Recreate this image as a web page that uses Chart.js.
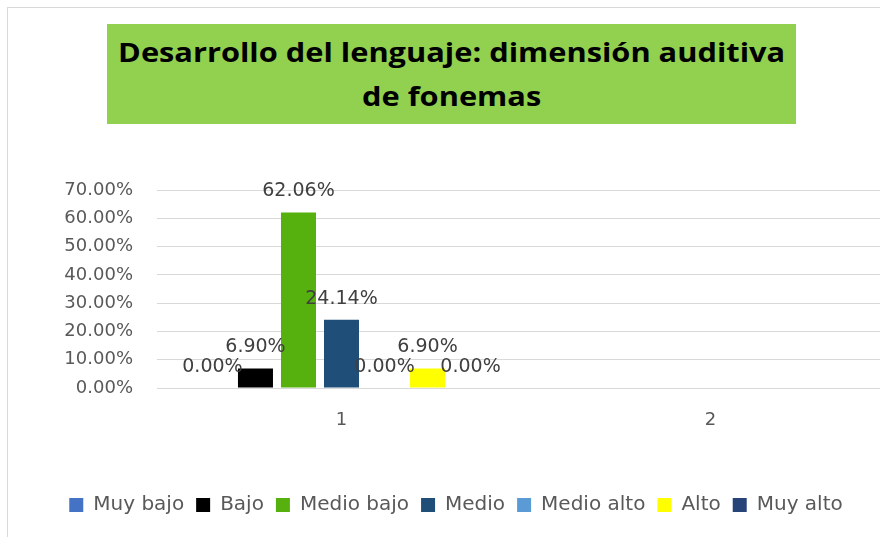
<!DOCTYPE html>
<html lang="es">
<head>
  <meta charset="UTF-8" />
  <title>Desarrollo del lenguaje: dimensión auditiva de fonemas</title>
  <script src="https://cdn.jsdelivr.net/npm/chart.js"></script>
  <style>
    body {
      margin: 0;
      width: 880px;
      height: 537px;
      overflow: hidden;
      background: #fff;
      position: relative;
    }

    #frame {
      position: absolute;
      left: 7px;
      top: 7px;
      width: 900px;
      height: 560px;
      border: 1px solid #d9d9d9;
    }

    #chart-box {
      position: absolute;
      left: 0;
      top: 0;
      width: 912px;
      height: 537px;
    }

    #title {
      position: absolute;
      left: 107px;
      top: 24px;
      width: 689px;
      height: 100px;
      box-sizing: border-box;
      padding-top: 6px;
      background: #92d050;
      color: #000;
      text-align: center;
      font-family: "Open Sans", sans-serif;
      font-weight: bold;
      font-size: 27px;
      line-height: 44px;
    }

    #title span {
      display: inline-block;
      transform-origin: center top;
    }
  </style>
</head>
<body>
  <div id="frame"></div>
  <div id="chart-box">
    <canvas id="nivelesChart" width="912" height="537"></canvas>
  </div>
  <div id="title"><span id="titleText">Desarrollo del lenguaje: dimensión auditiva<br>de fonemas</span></div>

  <script>
    // datos (porcentajes)
    const categories = ['1', '2'];
    const seriesNames = ['Muy bajo', 'Bajo', 'Medio bajo', 'Medio', 'Medio alto', 'Alto', 'Muy alto'];
    const muyBajo = [0, null];
    const bajo = [6.90, null];
    const medioBajo = [62.06, null];
    const medio = [24.14, null];
    const medioAlto = [0, null];
    const alto = [6.90, null];
    const muyAlto = [0, null];
    const yTicks = [0, 10, 20, 30, 40, 50, 60, 70];

    const seriesValues = [muyBajo, bajo, medioBajo, medio, medioAlto, alto, muyAlto];
    const seriesColors = ['#4472c4', '#000000', '#56b00e', '#1f4e79', '#5b9bd5', '#ffff00', '#264478'];

    // ajustar el ancho del título
    const titleText = document.getElementById('titleText');
    const tw = titleText.getBoundingClientRect().width;
    titleText.style.transform = 'scaleX(' + (667 / tw) + ')';

    Chart.defaults.font.family = '"DejaVu Sans", sans-serif';

    const fmt = v => v.toFixed(2) + '%';

    const valueLabels = {
      id: 'valueLabels',
      afterDatasetsDraw(chart) {
        const ctx = chart.ctx;
        ctx.save();
        ctx.font = '19px "DejaVu Sans", sans-serif';
        ctx.fillStyle = '#404040';
        ctx.textAlign = 'center';
        ctx.textBaseline = 'alphabetic';
        chart.data.datasets.forEach((ds, i) => {
          chart.getDatasetMeta(i).data.forEach((bar, j) => {
            const v = ds.data[j];
            if (v === null || v === undefined) return;
            ctx.fillText(fmt(v), bar.x, bar.y - 16);
          });
        });
        ctx.restore();
      }
    };

    new Chart(document.getElementById('nivelesChart'), {
      type: 'bar',
      data: {
        labels: categories,
        datasets: seriesNames.map((name, i) => ({
          label: name,
          data: seriesValues[i],
          backgroundColor: seriesColors[i],
          categoryPercentage: 0.816,
          barPercentage: 0.814
        }))
      },
      options: {
        responsive: false,
        animation: false,
        devicePixelRatio: 1,
        layout: { padding: { top: 190, right: 17, bottom: 12, left: 17 } },
        plugins: {
          legend: {
            position: 'bottom',
            labels: {
              boxWidth: 14,
              boxHeight: 14,
              padding: 12,
              color: '#595959',
              font: { size: 20 }
            }
          },
          tooltip: { enabled: false }
        },
        scales: {
          x: {
            grid: { display: false, drawTicks: false },
            border: { display: false },
            ticks: { color: '#595959', font: { size: 18 }, padding: 22 },
            afterFit(scale) { scale.height = 95; }
          },
          y: {
            min: 0,
            max: 70,
            afterBuildTicks(scale) { scale.ticks = yTicks.map(v => ({ value: v })); },
            grid: { color: '#d9d9d9', lineWidth: 1, drawTicks: false },
            border: { display: false },
            ticks: { color: '#595959', font: { size: 18 }, padding: 24, callback: v => fmt(v) },
            afterFit(scale) { scale.width = 140; }
          }
        }
      },
      plugins: [valueLabels]
    });
  </script>
</body>
</html>
